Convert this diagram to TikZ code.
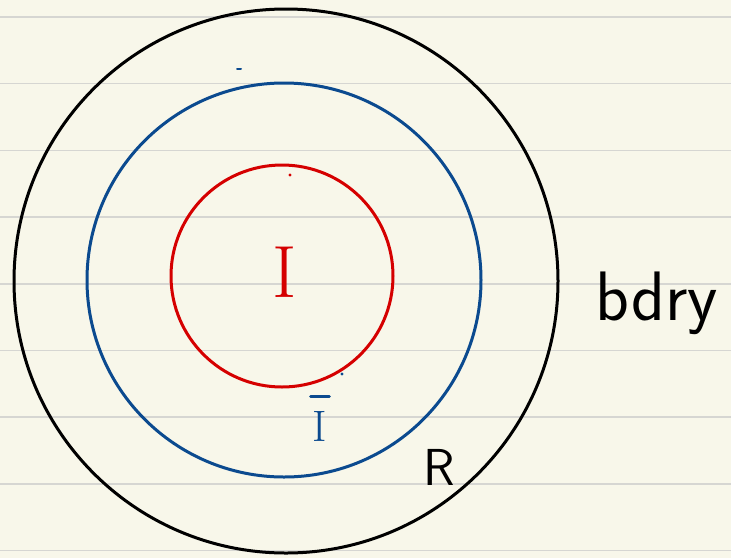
\documentclass[tikz,border=0pt]{standalone}
\usepackage{tikz}
\usetikzlibrary{positioning}
\definecolor{paper}{HTML}{F8F7EA}
\definecolor{ruling}{HTML}{D6D6D2}
\definecolor{inkblue}{HTML}{0B4A8F}
\definecolor{inkred}{HTML}{D50000}

\begin{document}
\begin{tikzpicture}[x=1pt, y=-1pt,
    rule/.style={draw=ruling, line width=1.5pt},
    ring/.style={line width=3pt},
    tag/.style={inner sep=0pt, font=\fontsize{52}{52}\selectfont\sffamily}
]

% Paper
\fill[paper] (0,0) rectangle (731,558);
\useasboundingbox (0,0) rectangle (731,558);
\foreach \k in {0,...,8}
    \draw[rule] (0,{17+66.7*\k}) -- (731,{17+66.7*\k});

% Rings
\draw[ring, black] (286,281) circle (272);
\draw[ring, inkblue] (284,280) circle (197);
\draw[ring, inkred] (282,276) circle (111);

% Stray marks
\draw[inkblue, line width=2pt, line cap=round] (237,69) -- (241,69);
\fill[inkred] (290,175) circle (1.6);
\fill[inkblue] (342,374) circle (1.6);

% Labels
\node[tag, text=inkred, anchor=base, font=\fontsize{74}{74}\selectfont\rmfamily] (inner) at (285,297) {I};
\node[tag, text=inkblue, anchor=base, font=\fontsize{44}{44}\selectfont\rmfamily] (closure) at (320,441) {I};
\draw[inkblue, line width=3pt, line cap=round]
    ([xshift=-2pt, yshift=14pt]closure.north west) -- ([xshift=2pt, yshift=14pt]closure.north east);
\node[tag, anchor=base] (region) at (439,485) {R};
\node[tag, anchor=base, font=\fontsize{70}{70}\selectfont\sffamily] (bdry) at (657,320) {bdry};

\end{tikzpicture}
\end{document}
